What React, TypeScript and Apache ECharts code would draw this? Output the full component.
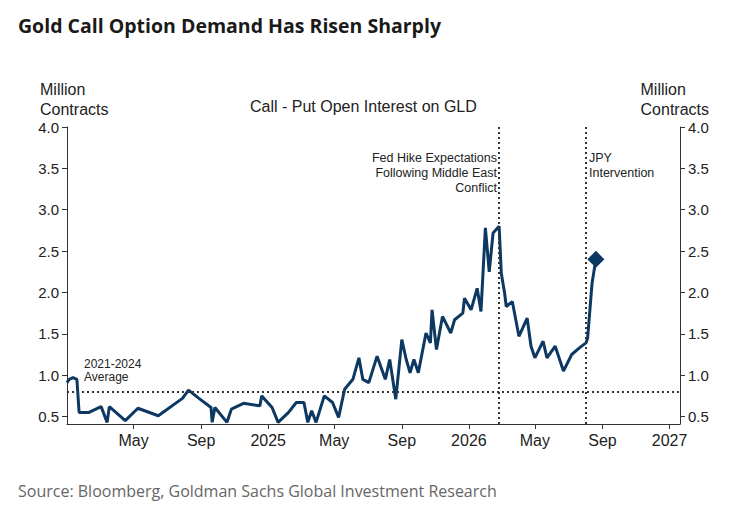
import React, { useEffect, useRef } from 'react';
import * as echarts from 'echarts';

const dates = [
	'2024-01-01', '2024-01-05', '2024-01-12', '2024-01-19', '2024-01-23', '2024-02-10', '2024-03-03', '2024-03-14',
	'2024-03-18', '2024-04-16', '2024-05-09', '2024-06-15', '2024-07-29', '2024-08-09', '2024-08-28', '2024-09-19',
	'2024-09-21', '2024-09-26', '2024-10-18', '2024-10-26', '2024-11-17', '2024-12-17', '2024-12-20', '2025-01-08',
	'2025-01-19', '2025-02-07', '2025-02-21', '2025-03-07', '2025-03-14', '2025-03-21', '2025-03-29', '2025-04-13',
	'2025-04-28', '2025-05-09', '2025-05-20', '2025-06-04', '2025-06-15', '2025-06-22', '2025-07-03', '2025-07-18',
	'2025-08-02', '2025-08-10', '2025-08-21', '2025-09-01', '2025-09-09', '2025-09-16', '2025-09-23', '2025-10-01',
	'2025-10-15', '2025-10-23', '2025-10-26', '2025-11-03', '2025-11-14', '2025-11-29', '2025-12-06', '2025-12-21',
	'2025-12-24', '2026-01-05', '2026-01-16', '2026-01-23', '2026-01-31', '2026-02-07', '2026-02-14', '2026-02-25',
	'2026-03-01', '2026-03-07', '2026-03-10', '2026-03-21', '2026-04-02', '2026-04-17', '2026-04-24', '2026-05-01',
	'2026-05-16', '2026-05-23', '2026-06-07', '2026-06-22', '2026-07-07', '2026-07-21', '2026-08-02', '2026-08-05',
	'2026-08-13', '2026-08-20',
];

const values = [
	0.91, 0.95, 0.97, 0.95, 0.55, 0.55, 0.62, 0.43,
	0.62, 0.45, 0.6, 0.51, 0.72, 0.82, 0.72, 0.61,
	0.43, 0.61, 0.43, 0.59, 0.66, 0.63, 0.75, 0.61,
	0.43, 0.55, 0.67, 0.67, 0.43, 0.57, 0.43, 0.75,
	0.67, 0.49, 0.83, 0.95, 1.21, 0.95, 0.91, 1.23,
	0.95, 1.19, 0.71, 1.43, 1.19, 1.03, 1.19, 1.03,
	1.51, 1.39, 1.79, 1.31, 1.71, 1.51, 1.67, 1.75,
	1.93, 1.79, 2.05, 1.77, 2.78, 2.25, 2.72, 2.8,
	2.23, 1.99, 1.83, 1.89, 1.47, 1.69, 1.35, 1.21,
	1.41, 1.21, 1.35, 1.05, 1.25, 1.33, 1.39, 1.45,
	2.11, 2.4,
];

const yTicks = [0.5, 1.0, 1.5, 2.0, 2.5, 3.0, 3.5, 4.0];
const xTicks = ['2024-05-01', '2024-09-01', '2025-01-01', '2025-05-01', '2025-09-01', '2026-01-01', '2026-05-01', '2026-09-01', '2027-01-01'];
const average = 0.8;
const events = ['2026-02-25', '2026-08-01'];

const MONTHS = ['Jan', 'Feb', 'Mar', 'Apr', 'May', 'Jun', 'Jul', 'Aug', 'Sep', 'Oct', 'Nov', 'Dec'];
const FONT = 'Liberation Sans';
const NAVY = '#0c3861';
const ts = (d: string) => Date.UTC(+d.slice(0, 4), +d.slice(5, 7) - 1, +d.slice(8, 10));

const App: React.FC = () => {
	const ref = useRef<HTMLDivElement | null>(null);

	useEffect(() => {
		if (!ref.current) return;
		document.body.style.margin = '0';
		const chart = echarts.init(ref.current, null, { renderer: 'svg' });
		const tickTimes = xTicks.map(ts);
		const yAxisBase = {
			type: 'value',
			min: 0.41,
			max: 4.0,
			splitLine: { show: false },
			axisLine: { show: true, lineStyle: { color: '#333', width: 1 } },
			axisTick: { show: true, customValues: yTicks, length: 5, lineStyle: { color: '#333' } },
			axisLabel: {
				customValues: yTicks,
				formatter: (v: number) => v.toFixed(1),
				color: '#222', fontSize: 15, fontFamily: FONT,
			},
		};
		chart.setOption({
			animation: false,
			grid: { left: 67, right: 76, top: 127, bottom: 86 },
			title: [
				{ text: 'Gold Call Option Demand Has Risen Sharply', left: 13, top: 10, textStyle: { fontFamily: 'Open Sans', fontWeight: 'bold', fontSize: 19.5, color: '#1a1a1a' } },
				{ text: 'Source: Bloomberg, Goldman Sachs Global Investment Research', left: 13, top: 478, textStyle: { fontFamily: 'Open Sans', fontWeight: 'normal', fontSize: 16, color: '#666' } },
			],
			graphic: [
				{ type: 'text', left: 40, top: 79, style: { text: 'Million\nContracts', font: `16px "${FONT}"`, fill: '#222', lineHeight: 20 } },
				{ type: 'text', right: 47, top: 79, style: { text: 'Million\nContracts', font: `16px "${FONT}"`, fill: '#222', lineHeight: 20, align: 'right' } },
				{ type: 'text', left: 250, top: 98, style: { text: 'Call - Put Open Interest on GLD', font: `16px "${FONT}"`, fill: '#222' } },
				{ type: 'text', x: 497, y: 150, style: { text: 'Fed Hike Expectations\nFollowing Middle East\nConflict', font: `12.5px "${FONT}"`, fill: '#222', lineHeight: 15, align: 'right' } },
				{ type: 'text', x: 589, y: 150, style: { text: 'JPY\nIntervention', font: `12.5px "${FONT}"`, fill: '#222', lineHeight: 15 } },
				{ type: 'text', x: 84, y: 357, style: { text: '2021-2024\nAverage', font: `12px "${FONT}"`, fill: '#222', lineHeight: 13 } },
			],
			xAxis: {
				type: 'value',
				min: ts('2024-01-01'),
				max: ts('2027-01-20'),
				splitLine: { show: false },
				axisLine: { lineStyle: { color: '#333' } },
				axisTick: { show: true, customValues: tickTimes, length: 5, lineStyle: { color: '#333' } },
				axisLabel: {
					customValues: tickTimes,
					formatter: (v: number) => {
						const d = new Date(v);
						return d.getUTCMonth() === 0 ? String(d.getUTCFullYear()) : MONTHS[d.getUTCMonth()];
					},
					color: '#222', fontSize: 16, fontFamily: FONT, margin: 8,
				},
			},
			yAxis: [
				{ ...yAxisBase, position: 'left' },
				{ ...yAxisBase, position: 'right' },
			],
			series: [
				{
					type: 'line',
					data: dates.map((d, i) => [ts(d), values[i]]),
					showSymbol: false,
					clip: true,
					lineStyle: { color: NAVY, width: 3 },
					markLine: {
						silent: true,
						symbol: 'none',
						label: { show: false },
						lineStyle: { color: '#333', type: [2, 3], width: 2 },
						data: [
							{ yAxis: average },
							...events.map((e) => ({ xAxis: ts(e) })),
						],
					},
				},
				{
					type: 'scatter',
					data: [[ts(dates[dates.length - 1]), values[values.length - 1]]],
					symbol: 'diamond',
					symbolSize: 17,
					itemStyle: { color: NAVY, opacity: 1 },
				},
			],
		});
		return () => chart.dispose();
	}, []);

	return <div ref={ref} style={{ width: '756px', height: '510px' }} />;
};

export default App;
